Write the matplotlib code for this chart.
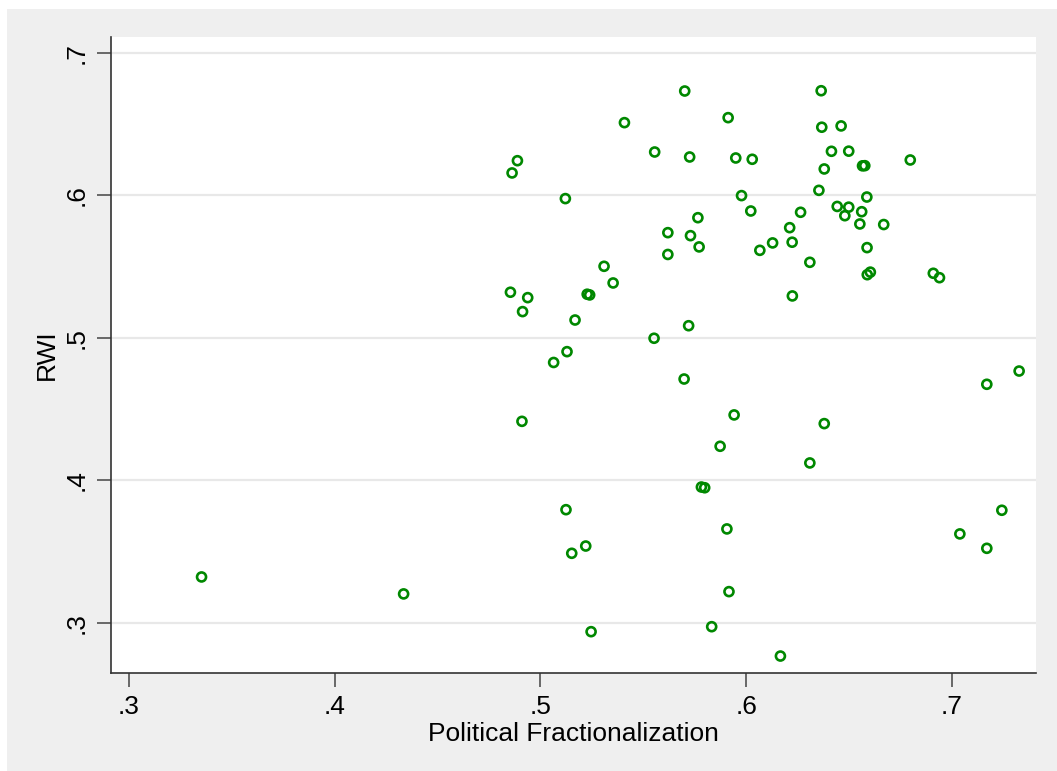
import matplotlib.pyplot as plt
from matplotlib.patches import Rectangle
from matplotlib.ticker import FuncFormatter

# Political Fractionalization (x) vs RWI (y)
frac = [0.3353, 0.4335, 0.4888, 0.4862, 0.5121, 0.4854, 0.4938, 0.4913, 0.4910, 0.5064,
        0.5129, 0.5168, 0.5227, 0.5239, 0.5309, 0.5353, 0.5408, 0.5124, 0.5152, 0.5220,
        0.5246, 0.5555, 0.5552, 0.5619, 0.5619, 0.5701, 0.5698, 0.5725, 0.5729, 0.5720,
        0.5765, 0.5771, 0.5782, 0.5798, 0.5832, 0.5873, 0.5912, 0.5906, 0.5916, 0.5941,
        0.5949, 0.5977, 0.6022, 0.6029, 0.6066, 0.6128, 0.6166, 0.6211, 0.6223, 0.6224,
        0.6264, 0.6309, 0.6309, 0.6353, 0.6364, 0.6367, 0.6379, 0.6379, 0.6414, 0.6442,
        0.6461, 0.6479, 0.6498, 0.6498, 0.6552, 0.6561, 0.6565, 0.6576, 0.6586, 0.6587,
        0.6588, 0.6603, 0.6668, 0.6797, 0.6909, 0.6939, 0.7038, 0.7169, 0.7169, 0.7242,
        0.7326]
rwi = [0.3323, 0.3204, 0.6244, 0.6158, 0.5978, 0.5321, 0.5283, 0.5185, 0.4415, 0.4828,
       0.4904, 0.5126, 0.5307, 0.5302, 0.5503, 0.5386, 0.6511, 0.3795, 0.3489, 0.3540,
       0.2939, 0.6305, 0.4998, 0.5739, 0.5586, 0.6733, 0.4712, 0.6270, 0.5718, 0.5086,
       0.5844, 0.5639, 0.3954, 0.3949, 0.2974, 0.4240, 0.6546, 0.3660, 0.3220, 0.4460,
       0.6263, 0.5999, 0.5891, 0.6254, 0.5615, 0.5667, 0.2768, 0.5774, 0.5672, 0.5295,
       0.5882, 0.5531, 0.4123, 0.6036, 0.6735, 0.6479, 0.6186, 0.4399, 0.6310, 0.5923,
       0.6488, 0.5858, 0.6311, 0.5918, 0.5800, 0.5886, 0.6208, 0.6209, 0.5989, 0.5634,
       0.5444, 0.5462, 0.5796, 0.6249, 0.5454, 0.5423, 0.3625, 0.4675, 0.3524, 0.3791,
       0.4768]

xticks = [0.3, 0.4, 0.5, 0.6, 0.7]
yticks = [0.3, 0.4, 0.5, 0.6, 0.7]

plt.rcParams['font.family'] = ['Liberation Sans', 'DejaVu Sans']

fig = plt.figure(figsize=(10.57, 7.71), dpi=100, facecolor='white')
# grey graph region like Stata's s2color scheme
fig.patches.append(Rectangle((7 / 1057, 0), 1, 1 - 9 / 771, transform=fig.transFigure,
                             facecolor='#efefef', edgecolor='none', zorder=-1))

ax = fig.add_axes([111 / 1057, 1 - 673 / 771, (1036 - 111) / 1057, (673 - 37) / 771])
ax.set_facecolor('white')

ax.scatter(frac, rwi, s=42, marker='o', facecolors='none', edgecolors='#008800',
           linewidths=1.9, zorder=3)

ax.set_xlim(0.2913, 0.7408)
ax.set_ylim(0.2649, 0.7112)

fmt = FuncFormatter(lambda v, p: ('%.1f' % v).lstrip('0'))
ax.set_xticks(xticks)
ax.set_yticks(yticks)
ax.xaxis.set_major_formatter(fmt)
ax.yaxis.set_major_formatter(fmt)

ax.grid(axis='y', color='#e8e8e8', linewidth=1.6, zorder=0)
ax.set_axisbelow(True)

for side in ['top', 'right']:
    ax.spines[side].set_visible(False)
for side in ['left', 'bottom']:
    ax.spines[side].set_color('#333333')
    ax.spines[side].set_linewidth(1.2)

ax.tick_params(axis='both', length=10, width=1.1, color='#444444', labelsize=19, pad=6)
for lab in ax.get_yticklabels():
    lab.set_rotation(90)
    lab.set_va('center')

ax.set_xlabel('Political Fractionalization', fontsize=19, labelpad=2)
ax.set_ylabel('RWI', fontsize=19, labelpad=4)

plt.savefig('out.png', dpi=100, facecolor='white')
